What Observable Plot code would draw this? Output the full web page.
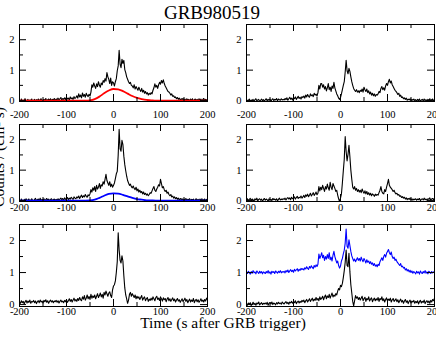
<!DOCTYPE html>
<html><head><meta charset="utf-8">
<script src="https://cdn.jsdelivr.net/npm/d3@7"></script>
<script src="https://cdn.jsdelivr.net/npm/@observablehq/plot@0.6"></script>
<style>
html,body{margin:0;padding:0;background:#fff;overflow:hidden}
#root{position:relative;width:436px;height:337px;overflow:hidden;background:#fff}
.panel{position:absolute}
.txt{position:absolute;white-space:nowrap;color:#000;font-family:"Liberation Serif","Times New Roman",serif}
</style></head><body><div id="root"></div>
<script>
// time grid (s after GRB trigger)
const times = d3.range(-200, 201, 2);
const smoothTimes = d3.range(-200, 201, 10);

// Panel 1 (top-left) light curve
const p1Counts = [
0.02,-0.03,0.05,0.00,-0.04,0.03,0.06,-0.02,0.01,0.04,-0.05,0.02,0.00,0.05,-0.03,0.01,0.04,-0.02,0.03,0.00,
0.05,-0.01,0.03,0.06,-0.03,0.02,0.04,0.00,0.07,-0.02,0.03,0.05,0.01,0.06,-0.01,0.04,0.02,0.07,0.00,0.05,
0.03,0.08,0.02,0.06,0.10,0.01,0.07,0.04,0.09,0.03,0.11,0.05,0.08,0.02,0.12,0.06,0.09,0.04,0.13,0.07,
0.10,0.16,0.08,0.22,0.12,0.18,0.09,0.25,0.14,0.20,0.11,0.24,0.17,0.13,0.21,0.15,0.28,0.52,0.44,0.58,
0.48,0.40,0.55,0.46,0.62,0.50,0.44,0.58,0.52,0.66,0.60,0.72,0.64,0.92,0.78,0.70,0.56,0.74,0.50,0.62,
0.58,0.48,0.62,0.72,0.98,1.14,1.65,1.20,1.08,1.36,1.22,1.32,1.02,0.92,0.78,0.70,0.62,0.56,0.60,0.50,
0.48,0.42,0.52,0.38,0.46,0.40,0.34,0.44,0.36,0.30,0.40,0.28,0.34,0.24,0.30,0.22,0.26,0.18,0.24,0.20,
0.26,0.22,0.34,0.42,0.55,0.44,0.50,0.40,0.52,0.60,0.54,0.66,0.58,0.68,0.56,0.48,0.42,0.36,0.30,0.28,
0.24,0.18,0.22,0.14,0.16,0.10,0.12,0.06,0.10,0.04,0.08,0.02,0.06,0.03,0.07,0.01,0.05,0.00,0.06,0.02,
0.04,-0.02,0.05,0.01,0.06,-0.03,0.03,0.05,0.00,0.04,-0.02,0.06,0.02,0.05,-0.01,0.03,0.07,0.00,0.04,0.02,
0.03];
// Panel 1 smooth model (red)
const p1Model = [0,0,0,0,0,0,0,0,0,0,0,0,0,0,0,
0.01,0.05,0.13,0.24,0.33,0.38,0.37,0.31,0.23,0.15,0.09,0.05,0.02,0.01,
0,0,0,0,0,0,0,0,0,0,0,0];

// Panel 2 (top-right)
const p2Counts = [
0.04,-0.02,0.01,0.05,-0.03,0.02,0.00,0.04,-0.04,0.03,0.06,-0.01,0.02,0.04,-0.03,0.01,0.05,0.00,0.03,-0.02,
0.03,0.06,-0.01,0.04,0.01,0.05,-0.02,0.03,0.06,0.00,0.04,0.02,0.07,-0.01,0.05,0.03,0.01,0.06,0.02,0.04,
0.02,0.07,0.03,0.09,0.01,0.06,0.11,0.04,0.08,0.02,0.10,0.06,0.12,0.04,0.09,0.14,0.07,0.11,0.05,0.13,
0.10,0.15,0.08,0.18,0.12,0.20,0.14,0.11,0.22,0.16,0.19,0.13,0.24,0.18,0.21,0.15,0.26,0.50,0.38,0.56,
0.56,0.44,0.52,0.38,0.46,0.32,0.42,0.56,0.36,0.44,0.30,0.48,0.40,0.60,0.42,0.32,0.22,0.16,0.08,0.04,
0.10,0.22,0.36,0.50,0.62,0.94,1.32,0.98,0.88,1.06,0.96,0.78,0.62,0.50,0.40,0.34,0.30,0.36,0.28,0.32,
0.26,0.34,0.30,0.38,0.28,0.44,0.36,0.30,0.38,0.26,0.32,0.22,0.28,0.18,0.24,0.16,0.22,0.14,0.20,0.18,
0.22,0.30,0.26,0.40,0.46,0.36,0.42,0.34,0.48,0.56,0.50,0.62,0.70,0.58,0.64,0.52,0.46,0.40,0.34,0.30,
0.26,0.20,0.24,0.14,0.18,0.10,0.12,0.06,0.09,0.04,0.08,0.01,0.05,0.02,0.06,-0.01,0.04,0.01,0.05,0.00,
0.03,-0.02,0.04,0.00,0.05,-0.03,0.02,0.04,-0.01,0.05,0.00,0.03,-0.02,0.04,0.01,0.06,-0.01,0.03,0.05,0.00,
0.02];

// Panel 3 (middle-left)
const p3Counts = [
0.03,-0.02,0.05,0.01,-0.04,0.04,0.00,0.06,-0.02,0.03,0.05,-0.03,0.02,0.06,0.00,-0.02,0.04,0.07,-0.01,0.03,
0.05,0.00,0.08,-0.02,0.04,0.02,0.06,-0.01,0.03,0.07,0.01,0.05,-0.02,0.04,0.06,0.00,0.03,0.05,0.01,0.04,
0.02,0.06,0.00,0.05,0.08,0.03,0.07,0.01,0.09,0.04,0.06,0.10,0.03,0.08,0.05,0.11,0.07,0.04,0.12,0.08,
0.06,0.12,0.09,0.15,0.07,0.13,0.18,0.10,0.16,0.12,0.20,0.14,0.11,0.19,0.15,0.22,0.36,0.28,0.42,0.34,
0.46,0.30,0.50,0.38,0.44,0.56,0.40,0.52,0.48,0.62,0.54,0.70,0.86,0.66,0.58,0.50,0.62,0.46,0.54,0.44,
0.50,0.58,0.72,0.88,0.96,1.50,2.34,1.70,1.62,1.98,1.84,1.46,1.18,0.98,0.80,0.66,0.58,0.50,0.54,0.46,
0.42,0.48,0.40,0.36,0.44,0.32,0.38,0.28,0.34,0.26,0.30,0.22,0.28,0.20,0.24,0.18,0.22,0.16,0.20,0.26,
0.24,0.32,0.40,0.46,0.34,0.30,0.38,0.44,0.52,0.48,0.70,0.56,0.42,0.46,0.36,0.30,0.34,0.24,0.28,0.20,
0.16,0.20,0.12,0.15,0.08,0.12,0.06,0.10,0.04,0.08,0.02,0.07,0.03,0.06,0.00,0.05,0.02,0.07,0.01,0.04,
0.03,0.06,-0.01,0.04,0.02,0.05,-0.02,0.03,0.06,0.00,0.04,-0.01,0.05,0.02,0.06,0.00,0.03,0.05,-0.01,0.04,
0.02];
// Panel 3 smooth model (blue)
const p3Model = [0,0,0,0,0,0,0,0,0,0,0,0,0,0,0,
0.005,0.03,0.09,0.16,0.22,0.24,0.23,0.19,0.14,0.09,0.05,0.03,0.01,0.005,
0,0,0,0,0,0,0,0,0,0,0,0];

// Panel 4 (middle-right)
const p4Counts = [
0.02,0.06,-0.01,0.04,0.07,0.00,0.05,0.03,-0.02,0.06,0.02,0.08,-0.01,0.04,0.06,0.01,0.05,-0.02,0.03,0.07,
0.01,0.05,0.03,-0.02,0.06,0.02,0.04,0.00,0.07,0.03,0.05,0.01,0.06,-0.01,0.04,0.08,0.02,0.05,0.03,0.06,
0.04,0.08,0.02,0.07,0.10,0.05,0.09,0.03,0.11,0.06,0.08,0.12,0.05,0.10,0.14,0.07,0.11,0.09,0.15,0.08,
0.12,0.17,0.10,0.19,0.14,0.21,0.13,0.18,0.24,0.15,0.20,0.26,0.17,0.22,0.28,0.19,0.24,0.46,0.32,0.44,
0.36,0.50,0.40,0.30,0.46,0.38,0.54,0.42,0.34,0.60,0.44,0.36,0.56,0.48,0.40,0.30,0.34,0.18,0.06,-0.03,
0.08,0.22,0.58,0.98,1.36,2.10,1.62,1.30,1.52,1.82,1.44,1.00,0.70,0.44,0.38,0.46,0.34,0.40,0.30,0.36,
0.28,0.34,0.26,0.38,0.30,0.24,0.32,0.22,0.30,0.20,0.26,0.18,0.24,0.16,0.22,0.19,0.14,0.21,0.17,0.20,
0.18,0.26,0.34,0.46,0.30,0.24,0.22,0.36,0.30,0.44,0.56,0.70,0.50,0.44,0.40,0.36,0.30,0.34,0.26,0.22,
0.24,0.18,0.20,0.14,0.16,0.10,0.13,0.08,0.11,0.05,0.09,0.03,0.07,0.04,0.08,0.02,0.06,0.01,0.05,0.03,
0.06,0.01,0.05,0.03,0.07,0.00,0.04,0.06,0.02,0.08,0.03,0.05,0.01,0.06,0.04,0.09,0.02,0.05,0.07,0.03,
0.08];

// Panel 5 (bottom-left)
const p5Counts = [
0.08,0.04,0.12,0.06,0.10,0.02,0.09,0.13,0.05,0.11,0.07,0.14,0.04,0.10,0.08,0.13,0.06,0.11,0.03,0.09,
0.12,0.06,0.14,0.08,0.11,0.05,0.13,0.09,0.15,0.07,0.12,0.04,0.10,0.14,0.08,0.12,0.06,0.11,0.09,0.13,
0.07,0.12,0.05,0.10,0.14,0.08,0.11,0.06,0.13,0.09,0.15,0.07,0.12,0.18,0.10,0.16,0.08,0.14,0.20,0.11,
0.16,0.10,0.19,0.13,0.22,0.15,0.12,0.24,0.17,0.28,0.14,0.20,0.30,0.18,0.25,0.16,0.32,0.20,0.27,0.22,
0.30,0.18,0.26,0.34,0.22,0.28,0.36,0.24,0.32,0.20,0.38,0.30,0.42,0.34,0.26,0.36,0.40,0.28,0.22,0.46,
0.58,0.62,0.74,1.00,1.34,2.24,1.70,1.38,1.30,1.52,1.36,0.90,0.52,0.30,0.18,0.04,0.14,0.32,0.38,0.26,
0.34,0.28,0.22,0.30,0.18,0.26,0.20,0.24,0.16,0.22,0.28,0.14,0.20,0.24,0.12,0.18,0.22,0.10,0.17,0.13,
0.20,0.14,0.24,0.18,0.12,0.22,0.26,0.16,0.20,0.13,0.24,0.18,0.11,0.21,0.15,0.19,0.09,0.17,0.22,0.12,
0.18,0.10,0.16,0.21,0.12,0.17,0.08,0.14,0.19,0.11,0.15,0.07,0.13,0.18,0.09,0.14,0.20,0.10,0.16,0.06,
0.12,0.17,0.08,0.14,0.10,0.19,0.06,0.13,0.16,0.09,0.15,0.07,0.12,0.18,0.10,0.14,0.08,0.16,0.11,0.20,
0.15];

// Panel 6 (bottom-right): blue curve (offset by +1) and black curve
const p6Blue = [
1.02,0.97,1.04,1.00,0.95,1.03,0.98,1.06,0.99,1.02,0.96,1.05,1.01,0.97,1.04,0.99,1.03,0.96,1.02,1.00,
0.97,1.03,0.99,1.06,0.98,1.02,0.95,1.04,1.00,1.03,0.97,1.05,1.01,0.98,1.04,1.00,1.06,0.99,1.03,1.01,
1.04,0.99,1.06,1.02,1.08,1.00,1.05,1.09,1.03,1.07,1.01,1.10,1.05,1.08,1.12,1.04,1.10,1.07,1.13,1.09,
1.12,1.08,1.15,1.11,1.18,1.13,1.10,1.19,1.14,1.21,1.16,1.12,1.22,1.17,1.24,1.19,1.26,1.58,1.44,1.52,
1.62,1.46,1.54,1.38,1.50,1.42,1.56,1.44,1.62,1.40,1.48,1.36,1.54,1.66,1.50,1.40,1.30,1.36,1.22,1.14,
1.20,1.36,1.44,1.58,1.70,1.92,2.36,1.82,1.76,2.02,1.84,1.66,1.52,1.44,1.36,1.42,1.34,1.40,1.46,1.38,
1.44,1.36,1.48,1.40,1.34,1.44,1.38,1.30,1.40,1.32,1.36,1.28,1.34,1.26,1.30,1.22,1.28,1.20,1.24,1.18,
1.26,1.22,1.34,1.40,1.46,1.38,1.50,1.56,1.48,1.60,1.66,1.72,1.62,1.56,1.64,1.50,1.44,1.48,1.38,1.42,
1.34,1.30,1.26,1.22,1.28,1.18,1.20,1.14,1.16,1.08,1.12,1.05,1.09,1.02,1.07,1.00,1.05,0.98,1.03,1.00,
0.96,1.04,0.99,1.02,0.95,1.05,1.00,0.97,1.03,0.99,1.06,0.98,1.02,0.96,1.04,1.01,0.97,1.03,0.99,1.02,
1.00];
const p6Black = [
0.03,-0.02,0.05,0.01,0.06,-0.03,0.02,0.07,0.00,0.04,-0.02,0.05,0.02,0.08,-0.01,0.03,0.06,0.00,0.04,0.02,
0.05,0.01,0.07,-0.02,0.04,0.06,0.02,0.08,0.00,0.05,0.03,-0.01,0.06,0.02,0.07,0.03,0.05,0.01,0.08,0.04,
0.02,0.06,0.09,0.03,0.07,0.01,0.08,0.05,0.10,0.04,0.09,0.06,0.12,0.03,0.08,0.11,0.05,0.10,0.07,0.13,
0.09,0.14,0.06,0.12,0.16,0.08,0.13,0.18,0.10,0.15,0.20,0.11,0.17,0.13,0.22,0.14,0.19,0.12,0.24,0.16,
0.20,0.26,0.15,0.24,0.30,0.18,0.27,0.22,0.32,0.20,0.28,0.36,0.24,0.30,0.26,0.34,0.30,0.42,0.50,0.46,
0.60,0.56,0.66,0.84,1.06,1.32,1.70,1.22,1.18,1.60,1.02,0.62,0.36,0.10,-0.04,0.12,0.28,0.20,0.24,0.16,
0.22,0.14,0.20,0.26,0.12,0.18,0.23,0.10,0.19,0.15,0.24,0.11,0.17,0.21,0.09,0.16,0.20,0.12,0.18,0.14,
0.22,0.10,0.19,0.15,0.24,0.12,0.18,0.08,0.16,0.21,0.11,0.17,0.13,0.20,0.08,0.15,0.19,0.10,0.14,0.18,
0.09,0.15,0.06,0.12,0.17,0.08,0.13,0.04,0.11,0.16,0.07,0.12,0.03,0.10,0.14,0.05,0.11,0.08,0.13,0.04,
0.10,0.06,0.12,0.02,0.09,0.13,0.05,0.10,0.07,0.14,0.03,0.09,0.12,0.06,0.11,0.04,0.13,0.08,0.16,0.12,
0.20];

// axis ticks
const xTickLabels = [-200, -100, 0, 100, 200];
const xMajorTicks = [-100, 0, 100];
const xMinorTicks = [-150, -50, 50, 150];
const yTickLabels = [0, 1, 2];
const yMajorTicks = [0, 1, 2];
const yMinorTicks = [0.5, 1.5];

const titleText = "GRB980519";
const xLabelText = "Time (s after GRB trigger)";
const yLabelText = "Counts / (cm\u00B2 s)";

function series(ts, vs) {
  return ts.map((t, i) => ({t, v: vs[i]})).filter(d => d.v !== undefined);
}

// layout
const colLeft = [19, 246];
const frameW = 188;
const rowTop = [24, 124, 224];
const rowH = [77, 77, 82];
const rowLabelPad = [9, 2, 1];
const rowYDomain = [[-0.03, 2.5], [-0.03, 2.5], [-0.06, 2.5]];

const panels = [
  {col:0, row:0, lines:[{d:series(times,p1Counts), c:"#000", w:1.1}, {d:series(smoothTimes,p1Model), c:"#ff0000", w:1.8, smooth:true}]},
  {col:1, row:0, lines:[{d:series(times,p2Counts), c:"#000", w:1.1}]},
  {col:0, row:1, lines:[{d:series(times,p3Counts), c:"#000", w:1.1}, {d:series(smoothTimes,p3Model), c:"#0000ff", w:1.8, smooth:true}]},
  {col:1, row:1, lines:[{d:series(times,p4Counts), c:"#000", w:1.1}]},
  {col:0, row:2, lines:[{d:series(times,p5Counts), c:"#000", w:1.1}]},
  {col:1, row:2, lines:[{d:series(times,p6Blue), c:"#0000ff", w:1.1}, {d:series(times,p6Black), c:"#000", w:1.1}]}
];

const root = document.getElementById("root");
const mL = 24, mR = 4, mT = 3, mB = 24;
const font = "\"Liberation Serif\", \"Times New Roman\", serif";

for (const p of panels) {
  const h = rowH[p.row];
  const el = Plot.plot({
    width: mL + frameW + mR, height: mT + h + mB,
    marginLeft: mL, marginRight: mR, marginTop: mT, marginBottom: mB,
    x: {domain: [-200, 200], label: null},
    y: {domain: rowYDomain[p.row], label: null},
    style: {background: "transparent", overflow: "visible", color: "#000"},
    marks: [
      ...p.lines.map(l => Plot.line(l.d, {x: "t", y: "v", stroke: l.c, strokeWidth: l.w, curve: l.smooth ? "monotone-x" : "linear", clip: true})),
      Plot.tickX(xMajorTicks, {x: d => d, insetTop: h - 7, stroke: "#000"}),
      Plot.tickX(xMajorTicks, {x: d => d, insetBottom: h - 7, stroke: "#000"}),
      Plot.tickX(xMinorTicks, {x: d => d, insetTop: h - 4, stroke: "#000"}),
      Plot.tickX(xMinorTicks, {x: d => d, insetBottom: h - 4, stroke: "#000"}),
      Plot.tickY(yMajorTicks, {y: d => d, insetRight: frameW - 7, stroke: "#000"}),
      Plot.tickY(yMajorTicks, {y: d => d, insetLeft: frameW - 7, stroke: "#000"}),
      Plot.tickY(yMinorTicks, {y: d => d, insetRight: frameW - 4, stroke: "#000"}),
      Plot.tickY(yMinorTicks, {y: d => d, insetLeft: frameW - 4, stroke: "#000"}),
      Plot.frame({stroke: "#000", strokeWidth: 1}),
      Plot.axisX(xTickLabels, {anchor: "bottom", tickSize: 0, tickPadding: rowLabelPad[p.row], tickFormat: d => String(d), fill: "#000"}),
      Plot.axisY(yTickLabels, {anchor: "left", tickSize: 0, tickPadding: 5, tickFormat: d => String(d), fill: "#000"})
    ]
  });
  // serif tick labels, as in the reference
  el.setAttribute("font-family", font);
  el.setAttribute("font-size", "10.5");
  el.style.fontFamily = font;
  el.style.fontSize = "10.5px";
  el.querySelectorAll("g, text").forEach(t => {
    if (t.hasAttribute("font-family")) t.setAttribute("font-family", font);
    if (t.hasAttribute("font-size")) t.setAttribute("font-size", "10.5");
  });
  el.querySelectorAll("text").forEach(t => {
    t.style.fontFamily = font;
    t.style.fontSize = "10.5px";
  });
  el.classList.add("panel");
  el.style.left = (colLeft[p.col] - mL) + "px";
  el.style.top = (rowTop[p.row] - mT) + "px";
  root.appendChild(el);
}

function addText(txt, size, x, y, extra) {
  const d = document.createElement("div");
  d.className = "txt";
  d.textContent = txt;
  d.style.fontSize = size + "px";
  d.style.lineHeight = size + "px";
  d.style.left = x + "px";
  d.style.top = y + "px";
  d.style.transform = extra;
  root.appendChild(d);
}
addText(titleText, 19, 212, 12, "translate(-50%,-50%)");
addText(xLabelText, 15.5, 223, 322.5, "translate(-50%,-50%)");
addText(yLabelText, 15.5, -0.7, 157, "translate(-50%,-50%) rotate(-90deg)");
</script></body></html>
